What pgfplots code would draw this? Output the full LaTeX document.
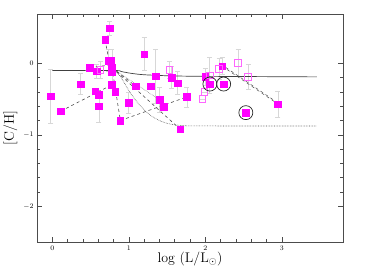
\documentclass[border=0pt]{standalone}
\usepackage{pgfplots}
\pgfplotsset{compat=1.18}
\usepackage{pgfplotstable}
\definecolor{mag}{RGB}{255,0,255}
\definecolor{ebar}{RGB}{215,215,215}
\pgfplotstableread{
x y e
-0.02 -0.46 0.38
0.11 -0.67 0
0.37 -0.29 0.15
0.49 -0.06 0
0.56 -0.39 0
0.58 -0.11 0.10
0.61 -0.44 0
0.61 -0.60 0.22
0.69 0.33 0
0.75 0.49 0.10
0.73 0.04 0.15
0.76 0.04 0
0.78 -0.06 0.25
0.78 -0.12 0
0.78 -0.30 0
0.82 -0.40 0
0.89 -0.80 0
1.00 -0.55 0.15
1.09 -0.32 0
1.20 0.13 0.23
1.29 -0.32 0
1.35 -0.18 0.38
1.40 -0.51 0.17
1.46 -0.61 0
1.56 -0.20 0.15
1.64 -0.28 0.16
1.67 -0.92 0
1.76 -0.47 0.14
2.00 -0.19 0.12
2.06 -0.29 0
2.22 -0.04 0.12
2.24 -0.29 0
2.53 -0.69 0
2.95 -0.57 0.18
}\filled
\pgfplotstableread{
x y e
0.63 -0.09 0.12
1.53 -0.09 0.12
1.96 -0.50 0
1.99 -0.40 0
2.06 -0.17 0.25
2.18 -0.08 0.15
2.43 0.01 0.19
2.56 -0.19 0.17
}\open
\begin{document}
\begin{tikzpicture}
\begin{axis}[
  scale only axis, width=306bp, height=228bp,
  xmin=-0.2, xmax=3.8, ymin=-2.5, ymax=0.69,
  xtick={0,1,2,3}, ytick={-2,-1,0},
  minor x tick num=4, minor y tick num=4,
  tick align=inside, major tick length=5bp, minor tick length=3bp,
  axis line style={black!70, line width=0.6pt},
  every tick/.style={black!70, line width=0.5pt},
  tick label style={font=\fontsize{7}{8}\selectfont},
  xlabel={log (L/L$_\odot$)}, ylabel={[C/H]},
  label style={font=\fontsize{14}{16}\selectfont},
  xlabel style={yshift=5bp},
  ylabel style={yshift=-1bp},
  clip=false,
]
% error bars
\addplot[draw=none, mark=none, forget plot,
  error bars/.cd, y dir=both, y explicit,
  error bar style={ebar, line width=0.8pt},
  error mark options={ebar, line width=0.8pt, rotate=90, mark size=2.5bp}]
  table[x=x, y=y, y error=e] {\filled};
\addplot[draw=none, mark=none, forget plot,
  error bars/.cd, y dir=both, y explicit,
  error bar style={ebar, line width=0.8pt},
  error mark options={ebar, line width=0.8pt, rotate=90, mark size=2.5bp}]
  table[x=x, y=y, y error=e] {\open};
% model tracks
\addplot[black!75, line width=0.7pt, smooth, mark=none] coordinates {
(0,-0.10) (0.8,-0.10) (0.9,-0.115) (1.0,-0.135) (1.1,-0.15) (1.2,-0.16) (1.4,-0.17) (1.6,-0.177) (2.0,-0.182) (3.46,-0.19)};
\addplot[black!70, densely dotted, line width=0.6pt, smooth, mark=none] coordinates {
(0.82,-0.10) (0.9,-0.2) (1.0,-0.38) (1.1,-0.53) (1.2,-0.65) (1.3,-0.74) (1.4,-0.80) (1.5,-0.84) (1.6,-0.86) (1.7,-0.87) (1.8,-0.875) (2.5,-0.877) (3.46,-0.877)};
\addplot[black!60, densely dotted, line width=0.5pt, mark=none] coordinates {(0.8,-0.08) (1.40,-0.51)};
\addplot[black!70, dashed, line width=0.6pt, mark=none] coordinates {(0.11,-0.67) (0.78,-0.30)};
\addplot[black!70, dashed, line width=0.6pt, mark=none] coordinates {(0.69,0.33) (0.74,0.04)};
\addplot[black!70, dashed, line width=0.6pt, mark=none] coordinates {(0.78,-0.06) (0.89,-0.80)};
\addplot[black!70, dashed, line width=0.6pt, mark=none] coordinates {(0.89,-0.80) (1.76,-0.47)};
\addplot[black!70, dashed, line width=0.6pt, mark=none] coordinates {(0.78,-0.06) (1.67,-0.92)};
\addplot[black!70, dashed, line width=0.6pt, mark=none] coordinates {(0.78,-0.06) (1.09,-0.32)};
\addplot[black!70, dashed, line width=0.6pt, mark=none] coordinates {(0.49,-0.06) (0.78,-0.02)};
\addplot[black!70, dashed, line width=0.5pt, mark=none] coordinates {(2.22,-0.04) (2.95,-0.57)};
\addplot[black!70, dashed, line width=0.5pt, mark=none] coordinates {(2.27,-0.06) (2.93,-0.54)};
% points
\addplot[only marks, mark=square*, mark size=3.3bp, mag, mark options={draw=mag, fill=mag}] table[x=x, y=y] {\filled};
\addplot[only marks, mark=square, mark size=3.3bp, mag!60, mark options={line width=0.8pt}] table[x=x, y=y] {\open};
\addplot[only marks, mark=o, mark size=7bp, black!85, mark options={line width=0.7pt}] coordinates {(2.06,-0.29) (2.24,-0.29) (2.53,-0.69)};
\end{axis}
\pgfresetboundingbox
\path ([shift={(-37bp,-31bp)}]current axis.south west) rectangle ([shift={(22bp,14bp)}]current axis.north east);
\end{tikzpicture}
\end{document}
